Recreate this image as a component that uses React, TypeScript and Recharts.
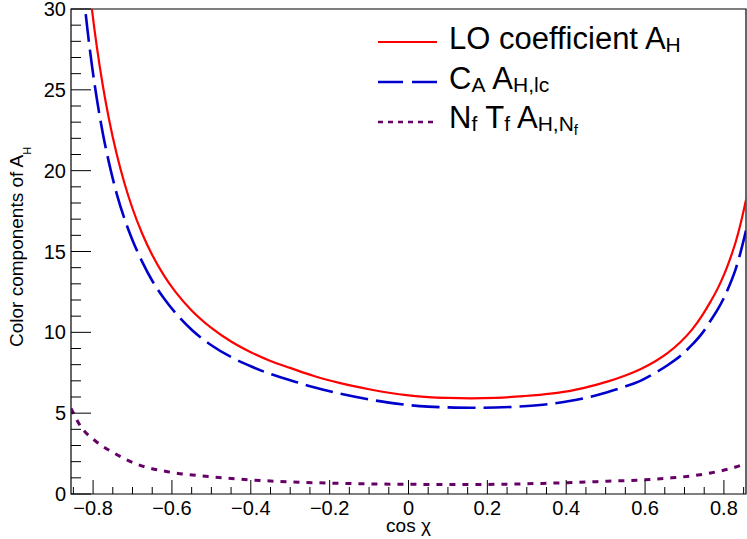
import React from 'react'
import { LineChart, Line, XAxis, YAxis, ReferenceArea, Legend } from 'recharts'

const FONT = '"Liberation Sans", Arial, Helvetica, sans-serif'
const RED = '#ff0000'
const BLUE = '#0000cc'
const PURPLE = '#660066'

const xMin = -0.856
const xMax = 0.856

// LO coefficient A_H
const loX = [-0.815, -0.803, -0.79, -0.775, -0.76, -0.74, -0.72, -0.7, -0.675, -0.65, -0.62, -0.59, -0.55, -0.5, -0.45, -0.4, -0.35, -0.3, -0.24, -0.173, -0.1, -0.05, 0, 0.05, 0.1, 0.157, 0.22, 0.292, 0.36, 0.419, 0.46, 0.504, 0.55, 0.588, 0.625, 0.656, 0.69, 0.72, 0.745, 0.766, 0.785, 0.8, 0.815, 0.83, 0.843, 0.856]
const loY = [32.62, 29.99, 27.58, 25.22, 23.23, 21.01, 19.19, 17.66, 16.08, 14.78, 13.51, 12.47, 11.35, 10.27, 9.43, 8.77, 8.23, 7.8, 7.3, 6.86, 6.48, 6.265, 6.1, 5.995, 5.944, 5.92, 5.95, 6.057, 6.21, 6.43, 6.66, 6.95, 7.33, 7.72, 8.2, 8.7, 9.4, 10.2, 11.05, 11.9, 12.75, 13.55, 14.5, 15.6, 16.8, 18.2]

// C_A A_H,lc
const lcX = [-0.828, -0.815, -0.803, -0.79, -0.775, -0.76, -0.74, -0.72, -0.7, -0.675, -0.65, -0.62, -0.59, -0.55, -0.5, -0.45, -0.4, -0.35, -0.3, -0.24, -0.173, -0.1, -0.05, 0, 0.05, 0.1, 0.157, 0.22, 0.292, 0.36, 0.419, 0.46, 0.504, 0.55, 0.588, 0.625, 0.656, 0.69, 0.72, 0.745, 0.766, 0.785, 0.8, 0.815, 0.83, 0.843, 0.856]
const lcY = [31.92, 28.88, 26.53, 24.37, 22.27, 20.53, 18.57, 17.0, 15.7, 14.34, 13.19, 12.09, 11.17, 10.16, 9.2, 8.47, 7.9, 7.42, 7.04, 6.6, 6.2, 5.85, 5.65, 5.5, 5.405, 5.359, 5.335, 5.35, 5.427, 5.57, 5.8, 6.0, 6.29, 6.65, 7.0, 7.48, 7.95, 8.55, 9.25, 9.95, 10.72, 11.45, 12.13, 12.96, 13.93, 15.02, 16.3]

// N_f T_f A_H,Nf
const nfX = [-0.856, -0.831, -0.797, -0.746, -0.687, -0.602, -0.501, -0.399, -0.264, -0.137, 0, 0.157, 0.292, 0.403, 0.504, 0.59, 0.656, 0.716, 0.766, 0.801, 0.83, 0.856]
const nfY = [5.3, 4.16, 3.34, 2.52, 1.83, 1.34, 1.07, 0.87, 0.72, 0.64, 0.6, 0.585, 0.63, 0.7, 0.79, 0.87, 0.98, 1.11, 1.3, 1.48, 1.67, 1.9]

const xTicks = [-0.85, -0.8, -0.75, -0.7, -0.65, -0.6, -0.55, -0.5, -0.45, -0.4, -0.35, -0.3, -0.25, -0.2, -0.15, -0.1, -0.05, 0, 0.05, 0.1, 0.15, 0.2, 0.25, 0.3, 0.35, 0.4, 0.45, 0.5, 0.55, 0.6, 0.65, 0.7, 0.75, 0.8, 0.85]
const xMajor = [-0.8, -0.6, -0.4, -0.2, 0, 0.2, 0.4, 0.6, 0.8]
const yTicks = [0, 1, 2, 3, 4, 5, 6, 7, 8, 9, 10, 11, 12, 13, 14, 15, 16, 17, 18, 19, 20, 21, 22, 23, 24, 25, 26, 27, 28, 29, 30]
const yMajor = [0, 5, 10, 15, 20, 25, 30]

const toPoints = (xs: number[], ys: number[]) => xs.map((x, i) => ({ x, y: ys[i] }))

const loData = toPoints(loX, loY)
const lcData = toPoints(lcX, lcY)
const nfData = toPoints(nfX, nfY)

const isIn = (list: number[], v: number) => list.some((m) => Math.abs(m - v) < 1e-6)

function fmtX(v: number): string {
  if (Math.abs(v) < 1e-9) return '0'
  const s = Math.abs(v).toFixed(1)
  return v < 0 ? '\u2212' + s : s
}

function XTick(props: any) {
  const { x, y, payload } = props
  const major = isIn(xMajor, payload.value)
  return (
    <g>
      <line x1={x} x2={x} y1={y} y2={y - (major ? 14 : 7)} stroke="#000" strokeWidth={1} />
      {major && (
        <text x={x} y={y + 21} textAnchor="middle" fontFamily={FONT} fontSize={20} fill="#000">
          {fmtX(payload.value)}
        </text>
      )}
    </g>
  )
}

function YTick(props: any) {
  const { x, y, payload } = props
  const major = isIn(yMajor, payload.value)
  return (
    <g>
      <line x1={x} x2={x + (major ? 20 : 10)} y1={y} y2={y} stroke="#000" strokeWidth={1} />
      {major && (
        <text x={x - 5} y={y + 7} textAnchor="end" fontFamily={FONT} fontSize={20} fill="#000">
          {payload.value}
        </text>
      )}
    </g>
  )
}

function XTitle() {
  return (
    <text x={408.5} y={532} textAnchor="middle" fontFamily={FONT} fontSize={19} fill="#000">
      cos χ
    </text>
  )
}

function YTitle() {
  return (
    <text x={23} y={347} transform="rotate(-90 23 347)" fontFamily={FONT} fontSize={19} fill="#000">
      Color components of A
      <tspan fontSize={11} dy={8}>H</tspan>
    </text>
  )
}

const Sub = ({ children }: { children: React.ReactNode }) => (
  <span style={{ fontSize: 21, position: 'relative', top: 3 }}>{children}</span>
)
const SubSub = ({ children }: { children: React.ReactNode }) => (
  <span style={{ fontSize: 15, position: 'relative', top: 4 }}>{children}</span>
)

const legendRows = [
  { key: 'lo', color: RED, dash: undefined as string | undefined, width: 2.2 },
  { key: 'lc', color: BLUE, dash: '25 9', width: 2.6 },
  { key: 'nf', color: PURPLE, dash: '5 5', width: 2.6 },
]

const legendLabels: Record<string, React.ReactNode> = {
  lo: (
    <>
      LO coefficient A<Sub>H</Sub>
    </>
  ),
  lc: (
    <>
      C<Sub>A</Sub> A<Sub>H,lc</Sub>
    </>
  ),
  nf: (
    <>
      N<Sub>f</Sub> T<Sub>f</Sub> A
      <Sub>
        H,N<SubSub>f</SubSub>
      </Sub>
    </>
  ),
}

function LegendBox() {
  return (
    <div style={{ fontFamily: FONT, fontSize: 31, color: '#000', lineHeight: '40px' }}>
      {legendRows.map((row) => (
        <div key={row.key} style={{ display: 'flex', alignItems: 'center', height: 40 }}>
          <svg width={60} height={40} style={{ display: 'block' }}>
            <line x1={0} x2={59} y1={22} y2={22} stroke={row.color} strokeWidth={row.width} strokeDasharray={row.dash} />
          </svg>
          <span style={{ marginLeft: 11, whiteSpace: 'nowrap' }}>{legendLabels[row.key]}</span>
        </div>
      ))}
    </div>
  )
}

export default function App() {
  return (
    <div style={{ position: 'absolute', left: 0, top: 0, background: '#fff' }}>
      <LineChart width={747} height={539} margin={{ top: 9, right: 1, bottom: 0, left: 0 }}>
        <XAxis
          type="number"
          dataKey="x"
          domain={[xMin, xMax]}
          allowDataOverflow
          ticks={xTicks}
          interval={0}
          tickSize={0}
          tickMargin={0}
          tickLine={false}
          axisLine={false}
          height={45}
          tick={<XTick />}
          label={<XTitle />}
        />
        <YAxis
          type="number"
          dataKey="y"
          domain={[0, 30]}
          allowDataOverflow
          ticks={yTicks}
          interval={0}
          tickSize={0}
          tickMargin={0}
          tickLine={false}
          axisLine={false}
          width={71}
          tick={<YTick />}
          label={<YTitle />}
        />
        <ReferenceArea x1={xMin} x2={xMax} y1={0} y2={30} fill="none" stroke="#000" strokeWidth={1.2} />
        <Line
          data={nfData}
          dataKey="y"
          name="Nf Tf AH,Nf"
          type="monotone"
          stroke={PURPLE}
          strokeWidth={3}
          strokeDasharray="6 7"
          dot={false}
          activeDot={false}
          isAnimationActive={false}
        />
        <Line
          data={lcData}
          dataKey="y"
          name="CA AH,lc"
          type="monotone"
          stroke={BLUE}
          strokeWidth={2.6}
          strokeDasharray="28 8"
          dot={false}
          activeDot={false}
          isAnimationActive={false}
        />
        <Line
          data={loData}
          dataKey="y"
          name="LO coefficient AH"
          type="monotone"
          stroke={RED}
          strokeWidth={2.2}
          dot={false}
          activeDot={false}
          isAnimationActive={false}
        />
        <Legend
          layout="vertical"
          align="center"
          verticalAlign="middle"
          content={() => <LegendBox />}
          wrapperStyle={{ left: 378, top: 20, right: 'auto', bottom: 'auto', width: 'auto', height: 'auto' }}
        />
      </LineChart>
    </div>
  )
}
